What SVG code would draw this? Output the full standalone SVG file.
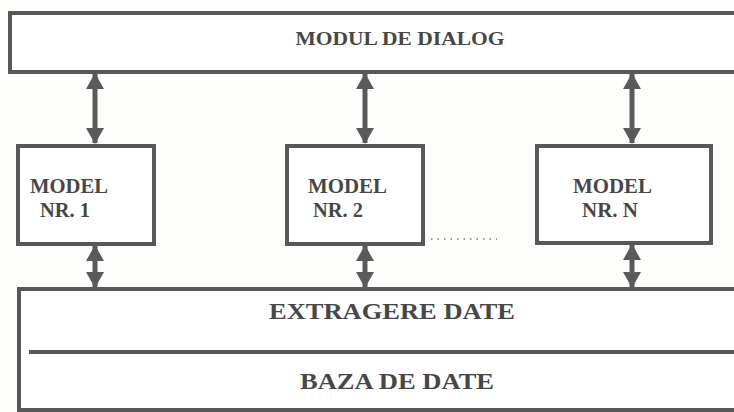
<svg xmlns="http://www.w3.org/2000/svg" width="734" height="412" viewBox="0 0 734 412">
<style>
.box{fill:#fff;stroke:#585858;stroke-width:4}
.t{font-family:"Liberation Serif","Times New Roman",serif;font-weight:bold;fill:#474747}
.shaft{stroke:#5a5a5a;stroke-width:5}
.head{fill:#5a5a5a}
</style>
<defs>
<marker id="ah" viewBox="0 0 16 18" refX="15" refY="9" markerWidth="16" markerHeight="18" markerUnits="userSpaceOnUse" orient="auto-start-reverse">
<path class="head" d="M0,0 L16,9 L0,18 Z"/>
</marker>
</defs>
<rect width="734" height="412" fill="#fdfdfb"/>
<g id="dialog">
<rect class="box" x="10" y="13" width="730" height="59"/>
<text class="t" x="400" y="45" font-size="18" text-anchor="middle" textLength="209" lengthAdjust="spacingAndGlyphs">MODUL DE DIALOG</text>
</g>
<g id="model1">
<rect class="box" x="18" y="146" width="136" height="98"/>
<text class="t" x="30" y="193" font-size="20" textLength="78" lengthAdjust="spacingAndGlyphs">MODEL</text>
<text class="t" x="40" y="217" font-size="20" textLength="50" lengthAdjust="spacingAndGlyphs">NR. 1</text>
</g>
<g id="model2">
<rect class="box" x="287" y="146" width="136" height="98"/>
<text class="t" x="308" y="193" font-size="20" textLength="79" lengthAdjust="spacingAndGlyphs">MODEL</text>
<text class="t" x="313" y="217" font-size="20" textLength="50" lengthAdjust="spacingAndGlyphs">NR. 2</text>
</g>
<g id="modelN">
<rect class="box" x="537" y="146" width="174" height="97"/>
<text class="t" x="573" y="193" font-size="20" textLength="79" lengthAdjust="spacingAndGlyphs">MODEL</text>
<text class="t" x="582" y="217" font-size="20" textLength="56" lengthAdjust="spacingAndGlyphs">NR. N</text>
</g>
<g id="dots">
<line x1="431" y1="239" x2="497" y2="239" stroke="#777" stroke-width="1.5" stroke-dasharray="1.5,5"/>
</g>
<g id="data">
<rect class="box" x="19" y="289" width="720" height="121"/>
<line x1="29" y1="352" x2="734" y2="352" stroke="#585858" stroke-width="4"/>
<text class="t" x="392" y="319" font-size="24" text-anchor="middle" textLength="246" lengthAdjust="spacingAndGlyphs">EXTRAGERE DATE</text>
<text class="t" x="397" y="389" font-size="24" text-anchor="middle" textLength="194" lengthAdjust="spacingAndGlyphs">BAZA DE DATE</text>
</g>
<g id="connectors">
<line class="shaft" x1="95" y1="74" x2="95" y2="143" marker-start="url(#ah)" marker-end="url(#ah)"/>
<line class="shaft" x1="365" y1="74" x2="365" y2="143" marker-start="url(#ah)" marker-end="url(#ah)"/>
<line class="shaft" x1="632" y1="74" x2="632" y2="143" marker-start="url(#ah)" marker-end="url(#ah)"/>
<line class="shaft" x1="95" y1="246" x2="95" y2="287" marker-start="url(#ah)" marker-end="url(#ah)"/>
<line class="shaft" x1="365" y1="246" x2="365" y2="287" marker-start="url(#ah)" marker-end="url(#ah)"/>
<line class="shaft" x1="632" y1="245" x2="632" y2="287" marker-start="url(#ah)" marker-end="url(#ah)"/>
</g>
</svg>
